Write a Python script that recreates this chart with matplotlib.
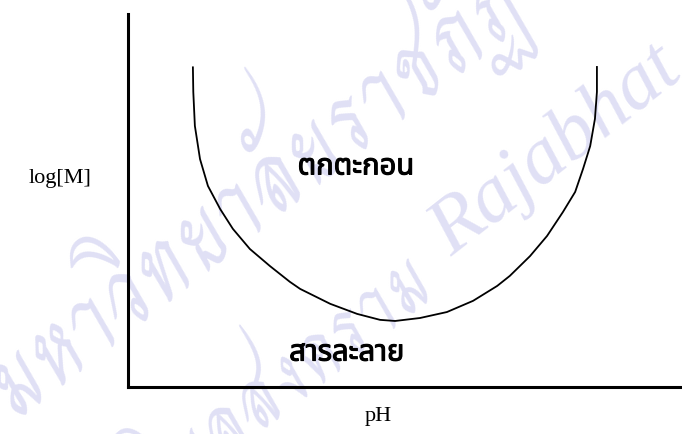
import matplotlib
matplotlib.use("Agg")
import matplotlib.pyplot as plt
import matplotlib.patheffects as pe

# curve (pH, log[M])
ph = [1.64, 1.65, 1.69, 1.82, 2.02, 2.33, 2.65, 3.08, 3.59, 4.09, 4.35, 5.11,
      5.79, 6.37, 6.75, 7.38, 8.06, 8.72, 9.33, 9.65, 10.16, 10.59, 10.99,
      11.30, 11.50, 11.68, 11.80, 11.85, 11.85]
log_m = [8.57, 7.91, 7.00, 6.11, 5.39, 4.77, 4.24, 3.70, 3.24, 2.82, 2.63, 2.23,
         1.96, 1.80, 1.77, 1.85, 2.01, 2.31, 2.71, 2.98, 3.51, 4.05, 4.69,
         5.23, 5.85, 6.46, 7.19, 7.91, 8.58]

label_top = "ตกตะกอน"
label_bottom = "สารละลาย"
x_label = "pH"
y_label = "log[M]"
watermark_1 = "มหาวิทยาลัยราชภัฏ"
watermark_2 = "พิบูลสงคราม"
watermark_3 = "Rajabhat"

fig = plt.figure(figsize=(6.82, 4.35), dpi=100)

# faint scan watermark behind the drawing
wm = dict(color="#e0e0f5", rotation=38, rotation_mode="anchor", va="baseline", zorder=-5)
script_th = ["Charm", "Charmonman", "Noto Sans Thai"]
fig.text(15 / 682, 1 - 418 / 435, watermark_1, family=script_th, fontsize=71,
         ha="left", **wm)
fig.text(440 / 682, 1 - 288 / 435, watermark_2, family=script_th, fontsize=60,
         ha="right", **wm)
fig.text(452 / 682, 1 - 258 / 435, watermark_3, family="Liberation Serif",
         style="italic", fontsize=58, ha="left", **wm)

ax = fig.add_axes([128 / 682, 1 - 388 / 435, 554 / 682, 373 / 435])
ax.patch.set_alpha(0)
ax.plot(ph, log_m, color="black", lw=1.3)
ax.set_xlim(0, 14)
ax.set_ylim(0, 10)
ax.set_xticks([])
ax.set_yticks([])
for side in ["top", "right"]:
    ax.spines[side].set_visible(False)
for side in ["left", "bottom"]:
    ax.spines[side].set_linewidth(2.2)

thai = ["Noto Sans Thai", "DejaVu Sans"]
heavy = [pe.withStroke(linewidth=0.8, foreground="black")]
ax.text(5.76, 5.90, label_top, family=thai, fontsize=21, fontweight="bold",
        ha="center", va="center", path_effects=heavy)
ax.text(5.53, 0.91, label_bottom, family=thai, fontsize=21, fontweight="bold",
        ha="center", va="center", path_effects=heavy)

fig.text(60 / 682, 1 - 178 / 435, y_label, family="Liberation Serif",
         fontsize=16, ha="center", va="center")
fig.text(378 / 682, 1 - 417 / 435, x_label, family="Liberation Serif",
         fontsize=16, ha="center", va="center")

fig.savefig("out.png", dpi=100)
